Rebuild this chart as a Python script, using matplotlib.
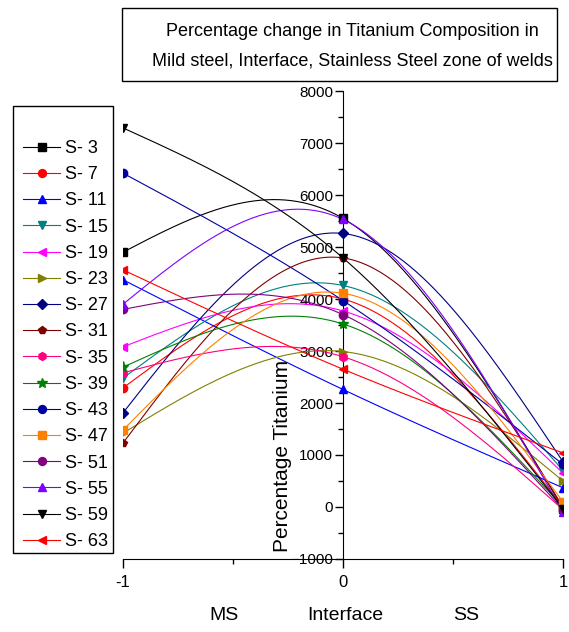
import numpy as np
import matplotlib
matplotlib.use("Agg")
import matplotlib.pyplot as plt
from matplotlib import font_manager
from matplotlib.lines import Line2D
from matplotlib.patches import Rectangle

# Zone positions along the weld and their names
positions = [-1, 0, 1]
zone_names = ["MS", "Interface", "SS"]

# Titanium readings per sample at MS (-1), interface (0), SS (1)
s3 = [4900, 5550, -30]
s7 = [2290, 4000, 0]
s11 = [4370, 2260, 370]
s15 = [2480, 4260, 700]
s19 = [3080, 3770, 650]
s23 = [1420, 2990, 500]
s27 = [1810, 5260, 870]
s31 = [1230, 4790, 0]
s35 = [2580, 2890, -50]
s39 = [2690, 3520, 0]
s43 = [6420, 3970, 820]
s47 = [1480, 4110, 100]
s51 = [3800, 3700, -50]
s55 = [3900, 5530, -100]
s59 = [7290, 4790, -30]
s63 = [4560, 2650, 1040]

sample_labels = ["S- 3", "S- 7", "S- 11", "S- 15", "S- 19", "S- 23", "S- 27", "S- 31",
                 "S- 35", "S- 39", "S- 43", "S- 47", "S- 51", "S- 55", "S- 59", "S- 63"]
sample_values = [s3, s7, s11, s15, s19, s23, s27, s31,
                 s35, s39, s43, s47, s51, s55, s59, s63]
colors = ["#000000", "#FF0000", "#0000FF", "#008080", "#FF00FF", "#808000", "#000080", "#800000",
          "#FF0080", "#008000", "#0000A0", "#FF8000", "#800080", "#8000FF", "#000000", "#FF0000"]
markers = ["s", "o", "^", "v", "<", ">", "D", "p", "h", "*", "o", "s", "o", "^", "v", "<"]

plt.rcParams["font.family"] = ["Liberation Sans", "DejaVu Sans"]

# Narrow face for the tick numbers when it is available
try:
    font_manager.findfont("Liberation Sans Narrow", fallback_to_default=False)
    tick_family, ytick_size, xtick_size = "Liberation Sans Narrow", 12, 13
except Exception:
    tick_family, ytick_size, xtick_size = "Liberation Sans", 11, 12


def natural_spline(x, y, n=300):
    """Natural cubic spline through the given points."""
    x = np.asarray(x, float)
    y = np.asarray(y, float)
    m = len(x)
    h = np.diff(x)
    A = np.zeros((m, m))
    b = np.zeros(m)
    A[0, 0] = A[-1, -1] = 1.0
    for i in range(1, m - 1):
        A[i, i - 1] = h[i - 1]
        A[i, i] = 2 * (h[i - 1] + h[i])
        A[i, i + 1] = h[i]
        b[i] = 6 * ((y[i + 1] - y[i]) / h[i] - (y[i] - y[i - 1]) / h[i - 1])
    M = np.linalg.solve(A, b)
    xs = np.linspace(x[0], x[-1], n)
    idx = np.clip(np.searchsorted(x, xs) - 1, 0, m - 2)
    x0, x1 = x[idx], x[idx + 1]
    hh = x1 - x0
    a = (x1 - xs) / hh
    c = (xs - x0) / hh
    ys = a * y[idx] + c * y[idx + 1] + ((a ** 3 - a) * M[idx] + (c ** 3 - c) * M[idx + 1]) * hh ** 2 / 6
    return xs, ys


W, H = 569, 632
fig = plt.figure(figsize=(W / 100, H / 100), dpi=100)
ax = fig.add_axes([123 / W, 1 - 559 / H, 440 / W, 468 / H])

# Clip region so that markers on the plot edges are cut by the frame
clip_rect = Rectangle((0, 0), 1, 1, transform=ax.transAxes, facecolor="none", edgecolor="none")
ax.add_patch(clip_rect)

handles = []
for vals, col, mk in zip(sample_values, colors, markers):
    xs, ys = natural_spline(positions, vals)
    ax.plot(xs, ys, color=col, lw=0.8, zorder=3)
    ms = 8 if mk == "*" else (5 if mk == "D" else 6)
    pts, = ax.plot(positions, vals, ls="none", marker=mk, color=col, ms=ms, zorder=4)
    pts.set_clip_path(clip_rect)
    handles.append(Line2D([], [], color=col, lw=0.8, marker=mk, ms=ms * 0.95))

ax.set_xlim(-1, 1)
ax.set_ylim(-1000, 8000)
ax.spines["top"].set_visible(False)
ax.spines["right"].set_visible(False)
ax.spines["left"].set_position(("data", 0))
ax.spines["left"].set_zorder(2)

ax.set_xticks(positions)
ax.set_xticklabels(["-1", "0", "1"])
ax.set_xticks([-0.5, 0.5], minor=True)
ax.tick_params(axis="x", which="major", direction="out", length=6.5, width=1, pad=5)
ax.tick_params(axis="x", which="minor", direction="out", length=3.5, width=1)
ax.set_yticks(np.arange(-1000, 8001, 1000))
ax.set_yticks(np.arange(-500, 8000, 1000), minor=True)
ax.tick_params(axis="y", which="major", direction="out", length=6, width=1, pad=1)
ax.tick_params(axis="y", which="minor", direction="out", length=3.5, width=1)
for lab in ax.get_yticklabels():
    lab.set_family(tick_family)
    lab.set_fontsize(ytick_size)
for lab in ax.get_xticklabels():
    lab.set_family(tick_family)
    lab.set_fontsize(xtick_size)

fig.text(283 / W, 1 - 456 / H, "Percentage Titanium", rotation=90,
         ha="center", va="center", fontsize=15)

for name, xp in zip(zone_names, [224, 345, 466]):
    fig.text(xp / W, 1 - 615 / H, name, ha="center", va="center", fontsize=14)

# Title box
fig.patches.append(Rectangle((122 / W, 1 - 81 / H), (557 - 122) / W, (81 - 8) / H,
                             transform=fig.transFigure, fill=False, lw=1, ec="black"))
fig.text(352 / W, 1 - 31 / H, "Percentage change in Titanium Composition in",
         ha="center", va="center", fontsize=13)
fig.text(352 / W, 1 - 61 / H, "Mild steel, Interface, Stainless Steel zone of welds",
         ha="center", va="center", fontsize=13)

# Legend box
fig.patches.append(Rectangle((12.5 / W, 1 - 553 / H), (112.5 - 12.5) / W, (553 - 106) / H,
                             transform=fig.transFigure, fill=False, lw=1, ec="black"))
fig.legend(handles, sample_labels, loc="upper left", bbox_to_anchor=(23 / W, 1 - 140 / H),
           frameon=False, borderpad=0, borderaxespad=0, handlelength=2.05,
           handletextpad=0.3, labelspacing=0.51, fontsize=13)

fig.savefig("out.png", dpi=100)
